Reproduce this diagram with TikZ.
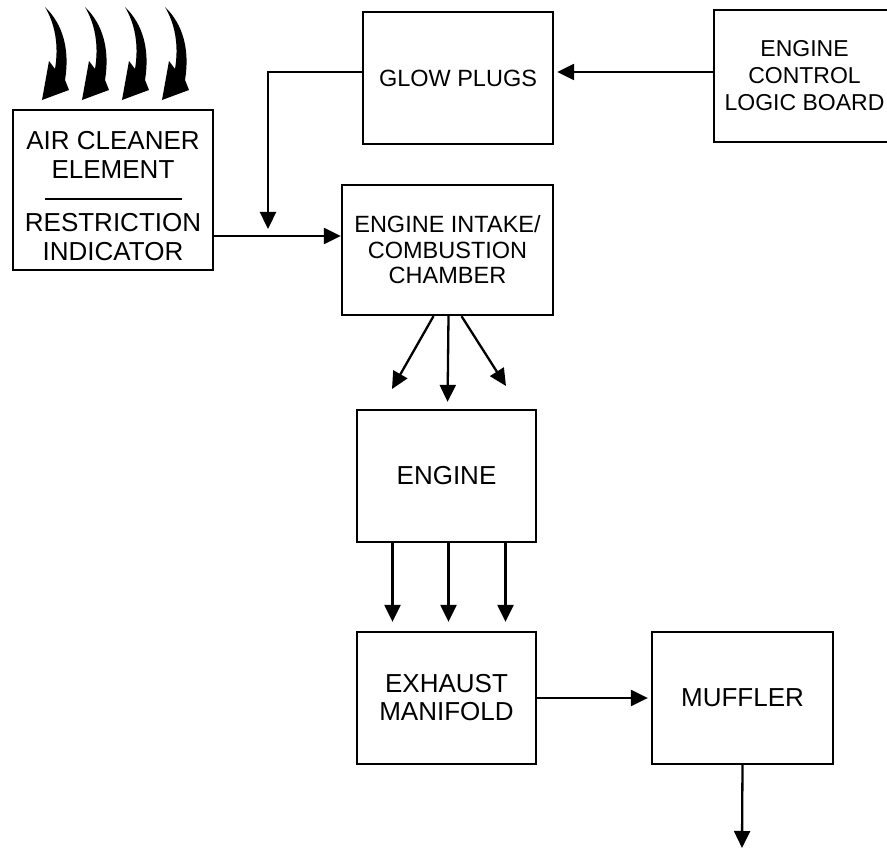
\documentclass[tikz,border=0pt]{standalone}
\usepackage{fontspec}
\setmainfont{Liberation Sans}
\usetikzlibrary{arrows.meta}

\begin{document}
\begin{tikzpicture}[x=1pt, y=-1pt,
  box/.style={draw, line width=2.3pt, inner sep=0pt, align=center,
              font=\fontsize{26}{28}\selectfont},
  lbl/.style={inner sep=0pt, align=center, font=\fontsize{26}{29}\selectfont},
  small/.style={font=\fontsize{23.5}{26}\selectfont},
  arr/.style={-{Triangle[length=17pt, width=16pt]}, line width=2.3pt}]
\useasboundingbox (0,0) rectangle (887,848);
% air coming in
\foreach \i in {0,...,3}
  \fill[xshift=40*\i pt] (45,7) .. controls (63,24) and (70,50) .. (65,80)
    -- (69,90) -- (42,100) -- (49,61) -- (55,69)
    .. controls (59,45) and (55,24) .. (45,7) -- cycle;
% boxes
\node[box, minimum width=200pt, minimum height=160pt] (air) at (113,190) {};
\node[lbl] (airtop) at (113,155) {AIR CLEANER\\ELEMENT};
\node[lbl] (airbot) at (113,237) {RESTRICTION\\INDICATOR};
\draw[line width=2.3pt] (45,199) -- (182,199);
\node[box, small, minimum width=190pt, minimum height=132pt] (glow) at (458,78) {GLOW PLUGS};
\node[box, minimum width=181pt, minimum height=132pt,
      font=\fontsize{23}{27}\selectfont] (ecl) at (804.5,76)
  {ENGINE\\CONTROL\\LOGIC BOARD};
\node[box, minimum width=211pt, minimum height=130pt,
      font=\fontsize{23.5}{25.5}\selectfont] (intake) at (447.5,250)
  {ENGINE INTAKE/\\COMBUSTION\\CHAMBER};
\node[box, minimum width=179pt, minimum height=132pt] (engine) at (446.5,476) {ENGINE};
\node[box, minimum width=179pt, minimum height=132pt] (exhaust) at (446.5,698) {EXHAUST\\MANIFOLD};
\node[box, minimum width=181pt, minimum height=132pt] (muffler) at (742.5,698) {MUFFLER};
% free ends
\coordinate (glowin) at (268,229);
\coordinate (spl) at (392,389);
\coordinate (spr) at (506,386);
\coordinate (out) at (742,848);
% connectors
\draw[arr, shorten >=3pt] ([yshift=4pt]ecl.west) -- ([yshift=4pt]ecl.west -| glow.east);
\draw[arr] ([yshift=6pt]glow.west) -| (glowin);
\draw[arr] ([yshift=-46pt]air.east) -- ([yshift=-46pt]air.east -| intake.west);
\draw[arr] ([xshift=-14pt]intake.south) -- (spl);
\draw[arr, shorten >=7pt] ([xshift=1pt]intake.south) -- ([xshift=1pt]engine.north);
\draw[arr] ([xshift=14pt]intake.south) -- (spr);
\foreach \dx in {-54,2,59}
  \draw[arr, shorten >=9pt] ([xshift=\dx pt]engine.south) -- ([xshift=\dx pt]exhaust.north);
\draw[arr, shorten >=3pt] (exhaust.east) -- (muffler.west);
\draw[arr] (muffler.south) -- (out);
\end{tikzpicture}
\end{document}
